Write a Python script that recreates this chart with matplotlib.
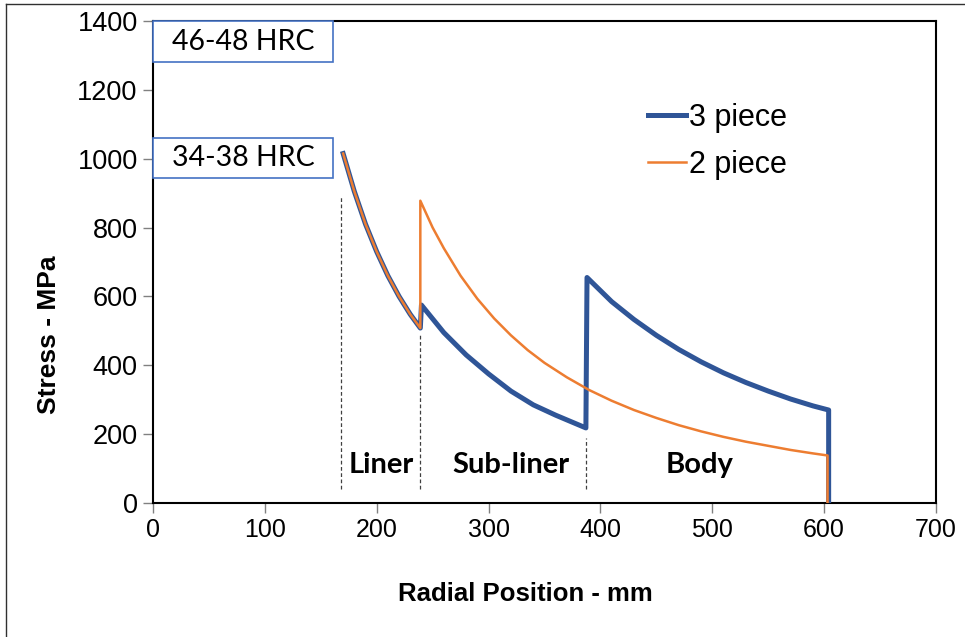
import matplotlib
matplotlib.use("Agg")
import matplotlib.pyplot as plt
from matplotlib.patches import Rectangle
from matplotlib.lines import Line2D

# stress through the wall (mm, MPa)
liner_x = [170, 180, 190, 200, 210, 220, 230, 239]
liner_y = [1015, 905, 810, 730, 660, 600, 548, 508]

sub3_x = [240, 260, 280, 300, 320, 340, 360, 387]
sub3_y = [575, 495, 430, 375, 325, 285, 255, 218]

body3_x = [388, 410, 430, 450, 470, 490, 510, 530, 550, 570, 590, 604, 604]
body3_y = [655, 585, 533, 487, 446, 410, 378, 350, 325, 302, 282, 270, 0]

outer2_x = [239, 250, 260, 275, 290, 305, 320, 335, 350, 370, 390, 410, 430,
            450, 470, 490, 510, 530, 550, 570, 590, 603, 603]
outer2_y = [878, 800, 740, 660, 593, 536, 487, 444, 407, 365, 328, 297, 270,
            247, 226, 208, 192, 178, 166, 154, 144, 138, 0]

three_x = liner_x + sub3_x + [387] + body3_x
three_y = liner_y + sub3_y + [218] + body3_y
two_x = liner_x + outer2_x
two_y = liner_y + outer2_y

# layer boundaries (dashed) and their labels
bound_x = [168, 239, 387]
bound_top = [890, 490, 190]
region_names = ["Liner", "Sub-liner", "Body"]
region_x = [204, 320, 489]

hrc_labels = ["46-48 HRC", "34-38 HRC"]
hrc_lo = [1281, 943]
hrc_hi = [1400, 1059]

blue = "#2F5597"
orange = "#ED7D31"

fig = plt.figure(figsize=(9.65, 6.37), dpi=100)
ax = fig.add_axes([0.1585, 0.2104, 0.8115, 0.7566])

ax.plot(three_x, three_y, color=blue, lw=3.6, label="3 piece", zorder=3)
ax.plot(two_x, two_y, color=orange, lw=1.8, label="2 piece", zorder=4)

for bx, bt in zip(bound_x, bound_top):
    ax.plot([bx, bx], [40, bt], color="#404040", lw=0.9, ls=(0, (3, 2)), zorder=2)

for name, rx in zip(region_names, region_x):
    ax.text(rx, 110, name, ha="center", va="center", fontsize=21,
            fontweight="bold", family="Lato")

for lab, lo, hi in zip(hrc_labels, hrc_lo, hrc_hi):
    ax.add_patch(Rectangle((0, lo), 161, hi - lo, facecolor="white",
                           edgecolor="#4472C4", lw=1.2, zorder=5, clip_on=False))
    ax.text(80.5, (lo + hi) / 2, lab, ha="center", va="center", fontsize=20.5,
            family="Lato", zorder=6)

ax.set_xlim(0, 700)
ax.set_ylim(0, 1400)
ax.set_xticks(range(0, 701, 100))
ax.set_yticks(range(0, 1401, 200))

for s in ax.spines.values():
    s.set_linewidth(1.5)
    s.set_color("black")
ax.tick_params(direction="out", length=7, width=1, color="#808080", pad=4)
for t in ax.get_xticklabels():
    t.set_family("Liberation Sans")
    t.set_fontsize(18)
for t in ax.get_yticklabels():
    t.set_family("Liberation Sans")
    t.set_fontsize(19.5)

ax.set_xlabel("Radial Position - mm", fontsize=18.5, fontweight="bold",
              family="Liberation Sans")
ax.xaxis.set_label_coords(0.475, -0.163)
ax.set_ylabel("Stress - MPa", fontsize=19, fontweight="bold",
              family="Liberation Sans")
ax.yaxis.set_label_coords(-0.118, 0.35)

ax.legend(loc="upper left", bbox_to_anchor=(0.632, 0.830), frameon=False,
          borderpad=0, borderaxespad=0, handlelength=1.25, handletextpad=0.1,
          labelspacing=0.55, prop={"family": "Liberation Sans", "size": 22})

# thin frame on the top and left edge of the picture
fig.add_artist(Line2D([6 / 965, 6 / 965], [0, 1 - 4 / 637], color="#303030", lw=1))
fig.add_artist(Line2D([6 / 965, 1], [1 - 4 / 637, 1 - 4 / 637], color="#303030", lw=1))

fig.savefig("out.png", dpi=100)
